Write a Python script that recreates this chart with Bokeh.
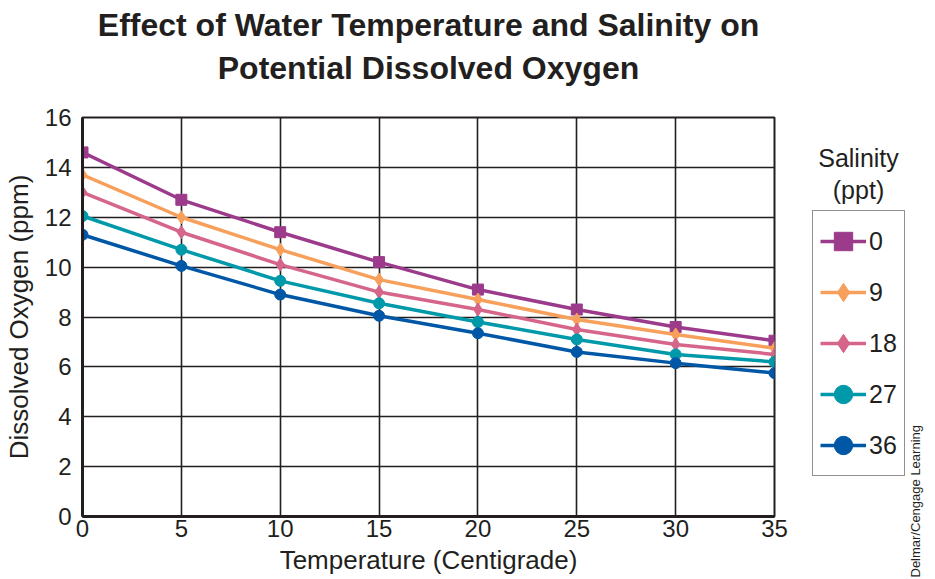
from bokeh.plotting import figure
from bokeh.models import Range1d, FixedTicker, Legend, LegendItem, Label, Title
from bokeh.layouts import column, row
from bokeh.embed import file_html
from bokeh.resources import INLINE

temperature = [0, 5, 10, 15, 20, 25, 30, 35]
sal_0 = [14.6, 12.7, 11.4, 10.2, 9.1, 8.3, 7.6, 7.05]
sal_9 = [13.7, 12.0, 10.7, 9.5, 8.7, 7.9, 7.3, 6.75]
sal_18 = [13.0, 11.4, 10.1, 9.0, 8.3, 7.5, 6.9, 6.5]
sal_27 = [12.05, 10.7, 9.45, 8.55, 7.8, 7.1, 6.5, 6.2]
sal_36 = [11.3, 10.05, 8.9, 8.05, 7.35, 6.6, 6.15, 5.75]
salinity_labels = ["0", "9", "18", "27", "36"]
x_ticks = [0, 5, 10, 15, 20, 25, 30, 35]
y_ticks = [0, 2, 4, 6, 8, 10, 12, 14, 16]

colors = ["#9C3A8B", "#F7A05B", "#D6658A", "#0099AA", "#0057A6"]
markers = ["square", "diamond", "diamond", "circle", "circle"]
sizes = [11, 13, 13, 11, 11]
series = [sal_0, sal_9, sal_18, sal_27, sal_36]

TXT = "#231f20"
FONT = "Liberation Sans"

# page geometry of the plotting frame
F_LEFT, F_RIGHT, F_TOP, F_BOTTOM = 82, 774, 117, 516
TH = 102            # title strip height
MW = 790            # main figure width
SW = 905 - MW       # legend panel width
CW = 935 - 905      # credit strip width
MH = 579 - TH
B_TOP, B_BOTTOM = F_TOP - TH, 579 - F_BOTTOM


def blank_fig(w, h, xr, yr, top=0, bottom=0, left=0, right=0):
    f = figure(width=w, height=h, output_backend="svg", toolbar_location=None,
               x_range=Range1d(*xr), y_range=Range1d(*yr),
               x_axis_type=None, y_axis_type=None, title=None,
               min_border_left=left, min_border_right=right,
               min_border_top=top, min_border_bottom=bottom)
    f.outline_line_color = None
    f.xgrid.visible = False
    f.ygrid.visible = False
    f.background_fill_color = "white"
    f.border_fill_color = "white"
    return f


# ---- title strip (data units = page pixels, y upward from strip bottom) ----
tf = blank_fig(935, TH, (0, 935), (0, TH))
tf.add_layout(Label(x=428, y=TH - 24, text="Effect of Water Temperature and Salinity on",
                    text_align="center", text_baseline="middle", text_font=FONT,
                    text_font_size="32px", text_font_style="bold", text_color=TXT))
tf.add_layout(Label(x=428, y=TH - 67, text="Potential Dissolved Oxygen",
                    text_align="center", text_baseline="middle", text_font=FONT,
                    text_font_size="32px", text_font_style="bold", text_color=TXT))

# ---- main chart ----
p = figure(width=MW, height=MH, output_backend="svg", toolbar_location=None, title=None,
           x_range=Range1d(0, 35), y_range=Range1d(0, 16),
           min_border_left=F_LEFT, min_border_right=MW - F_RIGHT,
           min_border_top=B_TOP, min_border_bottom=B_BOTTOM)
p.background_fill_color = "white"
p.border_fill_color = "white"
p.outline_line_color = TXT
p.outline_line_width = 2

p.xaxis.ticker = FixedTicker(ticks=x_ticks)
p.yaxis.ticker = FixedTicker(ticks=y_ticks)
for ax in (p.xaxis[0], p.yaxis[0]):
    ax.major_tick_line_color = None
    ax.minor_tick_line_color = None
    ax.major_tick_out = 0
    ax.major_tick_in = 0
    ax.axis_line_color = TXT
    ax.axis_line_width = 3
    ax.major_label_text_font = FONT
    ax.major_label_text_font_size = "24px"
    ax.major_label_text_color = TXT
    ax.axis_label_text_font = FONT
    ax.axis_label_text_font_size = "26px"
    ax.axis_label_text_font_style = "normal"
    ax.axis_label_text_color = TXT
p.xaxis.axis_label = "Temperature (Centigrade)"
p.yaxis.axis_label = "Dissolved Oxygen (ppm)"
p.xaxis.major_label_standoff = 3
p.yaxis.major_label_standoff = 11
p.xaxis.axis_label_standoff = 5
p.yaxis.axis_label_standoff = 8

for g in (p.xgrid[0], p.ygrid[0]):
    g.grid_line_color = TXT
    g.grid_line_width = 1.6
    g.grid_line_alpha = 1

for vals, c, m, s in zip(series, colors, markers, sizes):
    p.line(temperature, vals, line_color=c, line_width=3.5)
    p.scatter(temperature, vals, marker=m, size=s, fill_color=c, line_color=c)

# ---- legend panel (data units = page pixels) ----
sf = blank_fig(SW, MH, (0, SW), (579 - F_BOTTOM, 579 - F_TOP), top=B_TOP, bottom=B_BOTTOM)
items = []
for vals, c, m, lab in zip(series, colors, markers, salinity_labels):
    r1 = sf.line(temperature, vals, line_color=c, line_width=3.5, visible=False)
    r2 = sf.scatter(temperature, vals, marker=m, fill_color=c, line_color=c, visible=False)
    items.append(LegendItem(label=lab, renderers=[r1, r2]))
legend = Legend(items=items, location=(812 - MW, F_BOTTOM - 476), orientation="vertical",
                glyph_width=46, glyph_height=46, label_height=46, spacing=5,
                padding=7, margin=0, label_standoff=3,
                label_text_font=FONT, label_text_font_size="25px", label_text_color=TXT,
                border_line_color=TXT, border_line_width=1.5, background_fill_alpha=1)
sf.add_layout(legend, "center")
sf.add_layout(Label(x=858 - MW, y=579 - 157, text="Salinity", text_align="center",
                    text_baseline="middle", text_font=FONT, text_font_size="25px",
                    text_color=TXT))
sf.add_layout(Label(x=858 - MW, y=579 - 189, text="(ppt)", text_align="center",
                    text_baseline="middle", text_font=FONT, text_font_size="25px",
                    text_color=TXT))

# ---- credit strip ----
cf = blank_fig(CW, MH, (0, 1), (0, 1), top=B_TOP, bottom=B_BOTTOM, left=0)
cf.add_layout(Title(text="Delmar/Cengage Learning", align="left", offset=-61, standoff=0,
                    text_font=FONT, text_font_size="13px", text_font_style="normal",
                    text_color=TXT), "left")

layout = column(tf, row(p, sf, cf, spacing=0), spacing=0)
open("out.html", "w").write(file_html(layout, INLINE))
